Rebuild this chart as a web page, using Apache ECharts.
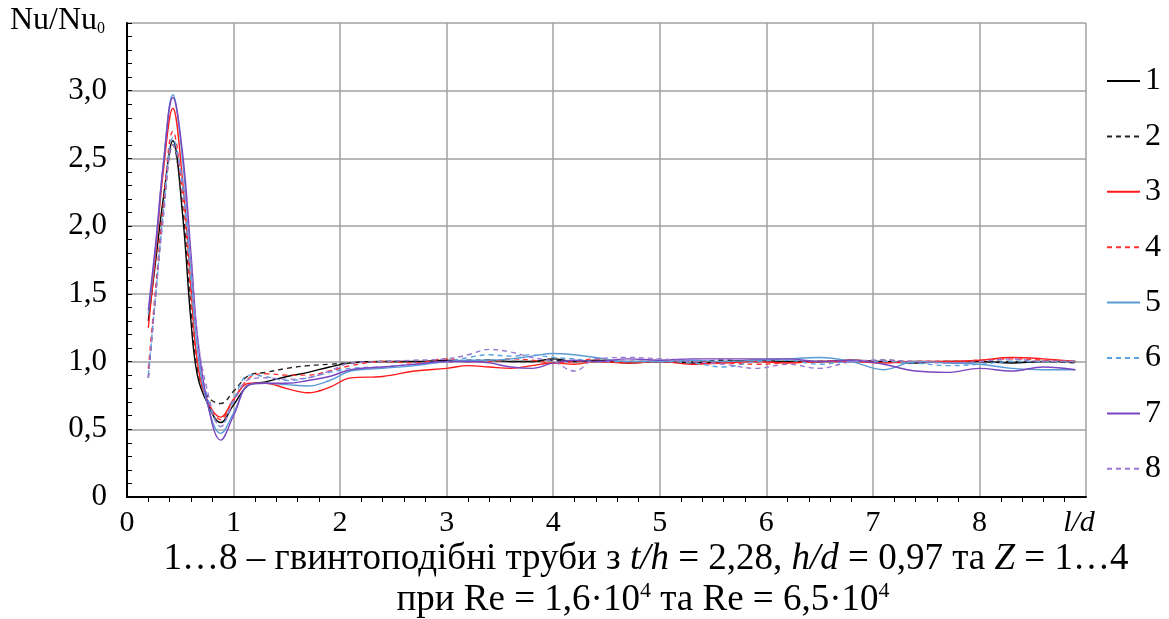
<!DOCTYPE html>
<html>
<head>
<meta charset="utf-8">
<script src="https://cdn.jsdelivr.net/npm/echarts@6/dist/echarts.min.js"></script>
<style>
  html, body { margin: 0; padding: 0; background: #fff; }
  #chart { width: 1169px; height: 619px; }
</style>
</head>
<body>
<div id="chart"></div>
<script>
// Relative distance l/d along the tube (shared by all curves)
const ld = [0.2, 0.27, 0.34, 0.43, 0.52, 0.6, 0.66, 0.75, 0.88, 1.0, 1.15, 1.3, 1.5, 1.7, 1.9, 2.1, 2.4, 2.7, 3.0, 3.2, 3.4, 3.6, 3.8, 4.0, 4.2, 4.4, 4.7, 5.0, 5.3, 5.6, 5.9, 6.2, 6.5, 6.8, 7.1, 7.4, 7.7, 8.0, 8.3, 8.6, 8.9];

// Nu/Nu0 for tubes 1…8
const nu1 = [1.30, 1.75, 2.20, 2.63, 2.10, 1.30, 0.90, 0.70, 0.55, 0.68, 0.83, 0.85, 0.89, 0.92, 0.96, 0.99, 1.00, 1.00, 1.01, 1.00, 1.01, 1.00, 1.00, 1.02, 1.00, 1.01, 0.99, 1.00, 0.99, 1.00, 1.01, 1.00, 1.00, 1.01, 1.00, 0.99, 1.00, 1.00, 0.99, 1.00, 1.00];
const nu2 = [0.88, 1.50, 2.10, 2.60, 2.15, 1.40, 0.95, 0.75, 0.69, 0.78, 0.90, 0.92, 0.95, 0.97, 0.98, 0.99, 1.00, 1.00, 1.00, 1.01, 1.01, 1.00, 1.00, 1.01, 1.00, 1.00, 1.00, 1.00, 1.00, 1.01, 1.00, 1.00, 1.00, 1.00, 1.01, 1.00, 1.00, 1.00, 1.00, 1.00, 0.99];
const nu3 = [1.25, 1.80, 2.40, 2.87, 2.35, 1.55, 1.00, 0.72, 0.59, 0.72, 0.84, 0.84, 0.80, 0.77, 0.81, 0.88, 0.89, 0.93, 0.95, 0.97, 0.96, 0.95, 0.97, 0.99, 0.98, 1.00, 0.99, 1.00, 0.98, 0.99, 1.00, 0.99, 1.00, 1.00, 0.99, 1.00, 1.00, 1.01, 1.03, 1.02, 1.00];
const nu4 = [0.95, 1.55, 2.15, 2.70, 2.25, 1.50, 1.00, 0.72, 0.57, 0.72, 0.88, 0.91, 0.90, 0.90, 0.93, 0.97, 1.00, 0.99, 1.02, 1.00, 1.00, 1.02, 1.01, 0.99, 1.00, 1.02, 1.00, 1.00, 1.00, 0.99, 0.98, 0.99, 1.00, 1.01, 1.00, 1.00, 1.00, 1.01, 1.02, 1.01, 1.00];
const nu5 = [1.35, 1.85, 2.45, 2.97, 2.50, 1.70, 1.10, 0.70, 0.47, 0.62, 0.83, 0.84, 0.83, 0.82, 0.86, 0.93, 0.95, 0.97, 1.00, 1.01, 1.01, 1.02, 1.04, 1.06, 1.05, 1.03, 1.00, 1.00, 1.01, 1.00, 1.01, 1.02, 1.03, 1.00, 0.94, 1.00, 0.99, 0.98, 0.95, 0.94, 0.94];
const nu6 = [0.90, 1.50, 2.10, 2.65, 2.30, 1.60, 1.10, 0.75, 0.52, 0.72, 0.90, 0.89, 0.86, 0.88, 0.92, 0.95, 0.96, 0.98, 1.00, 1.03, 1.05, 1.04, 1.05, 1.03, 1.02, 1.00, 1.00, 1.00, 0.99, 0.96, 1.00, 1.01, 0.98, 1.00, 1.00, 0.99, 0.97, 0.98, 1.00, 1.00, 1.00];
const nu7 = [1.38, 1.88, 2.45, 2.95, 2.55, 1.80, 1.20, 0.72, 0.42, 0.60, 0.83, 0.84, 0.84, 0.86, 0.89, 0.94, 0.96, 0.98, 1.00, 1.00, 0.99, 0.96, 0.95, 0.99, 1.01, 1.00, 1.02, 1.01, 1.02, 1.02, 1.02, 1.02, 1.00, 1.01, 0.98, 0.93, 0.92, 0.95, 0.93, 0.96, 0.94];
const nu8 = [0.88, 1.50, 2.05, 2.60, 2.35, 1.75, 1.20, 0.80, 0.52, 0.70, 0.87, 0.88, 0.87, 0.88, 0.93, 0.99, 1.00, 1.01, 1.02, 1.05, 1.09, 1.07, 1.03, 1.00, 0.93, 1.02, 1.03, 1.02, 1.00, 0.98, 0.95, 0.98, 0.95, 1.00, 1.01, 1.00, 0.99, 1.00, 1.02, 1.00, 1.00];

const seriesNames = ['1', '2', '3', '4', '5', '6', '7', '8'];
const seriesValues = [nu1, nu2, nu3, nu4, nu5, nu6, nu7, nu8];
const seriesColors = ['#000000', '#222222', '#ff1a1a', '#ff3030', '#5b9bd5', '#5ba3e0', '#7a45c0', '#9a7ad0'];
const seriesDashed = [false, true, false, true, false, true, false, true];

const serif = 'Liberation Serif, Times New Roman, serif';

const chart = echarts.init(document.getElementById('chart'), null, { renderer: 'canvas' });

const series = seriesNames.map((name, i) => ({
  name: name,
  type: 'line',
  smooth: 0.4,
  symbol: 'none',
  data: ld.map((x, k) => [x, seriesValues[i][k]]),
  lineStyle: {
    color: seriesColors[i],
    width: 1.4,
    type: seriesDashed[i] ? [5, 4] : 'solid'
  },
  itemStyle: { color: seriesColors[i] },
  z: 3
}));

chart.setOption({
  animation: false,
  backgroundColor: '#ffffff',
  grid: { left: 127, top: 23, width: 959, height: 474, containLabel: false },
  legend: {
    orient: 'vertical',
    left: 1101,
    top: 60,
    itemWidth: 33,
    itemHeight: 14,
    itemGap: 23.4,
    itemStyle: { color: 'transparent', borderWidth: 0, opacity: 0 },
    textStyle: { fontFamily: serif, fontSize: 32, color: '#000', lineHeight: 30 },
    data: seriesNames
  },
  xAxis: {
    type: 'value',
    min: 0,
    max: 9,
    interval: 1,
    axisLine: { show: true, onZero: false, lineStyle: { color: '#000', width: 2 } },
    axisTick: { show: false },
    minorTick: { show: true, splitNumber: 5, length: 5, lineStyle: { color: '#000', width: 1 } },
    splitLine: { show: true, lineStyle: { color: '#a0a0a0', width: 1.5 } },
    axisLabel: {
      margin: 11,
      fontFamily: serif,
      fontSize: 30,
      color: '#000',
      formatter: v => (v === 9 ? '{i|l/d}' : String(v)),
      rich: { i: { fontFamily: serif, fontSize: 30, fontStyle: 'italic', color: '#000', padding: [0, 14, 0, 0] } }
    }
  },
  yAxis: {
    type: 'value',
    min: 0,
    max: 3.5,
    interval: 0.5,
    axisLine: { show: true, onZero: false, lineStyle: { color: '#000', width: 2 } },
    axisTick: { show: true, inside: true, length: 5, lineStyle: { color: '#000', width: 1 } },
    minorTick: { show: true, splitNumber: 5, length: 5, lineStyle: { color: '#000', width: 1 } },
    splitLine: { show: true, lineStyle: { color: '#a0a0a0', width: 1.5 } },
    axisLabel: {
      margin: 20,
      fontFamily: serif,
      fontSize: 31,
      color: '#000',
      formatter: v => (v >= 3.5 ? '' : (v === 0 ? '0' : v.toFixed(1).replace('.', ',')))
    }
  },
  graphic: [
    {
      type: 'text',
      left: 10,
      top: 5,
      style: {
        text: '{a|Nu/Nu}{s|0}',
        rich: {
          a: { fontFamily: serif, fontSize: 32, fill: '#000' },
          s: { fontFamily: serif, fontSize: 16, fill: '#000', verticalAlign: 'bottom', padding: [12, 0, 0, 0] }
        }
      }
    },
    {
      type: 'text',
      x: 646,
      y: 559,
      style: {
        text: '{n|1…8 – гвинтоподібні труби з }{i|t/h}{n| = 2,28, }{i|h/d}{n| = 0,97 та }{i|Z}{n| = 1…4}',
        align: 'center',
        verticalAlign: 'middle',
        rich: {
          n: { fontFamily: serif, fontSize: 37, fill: '#000' },
          i: { fontFamily: serif, fontSize: 37, fontStyle: 'italic', fill: '#000' }
        }
      }
    },
    {
      type: 'text',
      x: 643,
      y: 600,
      style: {
        text: '{n|при Re = 1,6·10}{s|4}{n| та Re = 6,5·10}{s|4}',
        align: 'center',
        verticalAlign: 'middle',
        rich: {
          n: { fontFamily: serif, fontSize: 37, fill: '#000', lineHeight: 40 },
          s: { fontFamily: serif, fontSize: 22, fill: '#000', verticalAlign: 'top', lineHeight: 40 }
        }
      }
    }
  ],
  series: series
});
</script>
</body>
</html>
